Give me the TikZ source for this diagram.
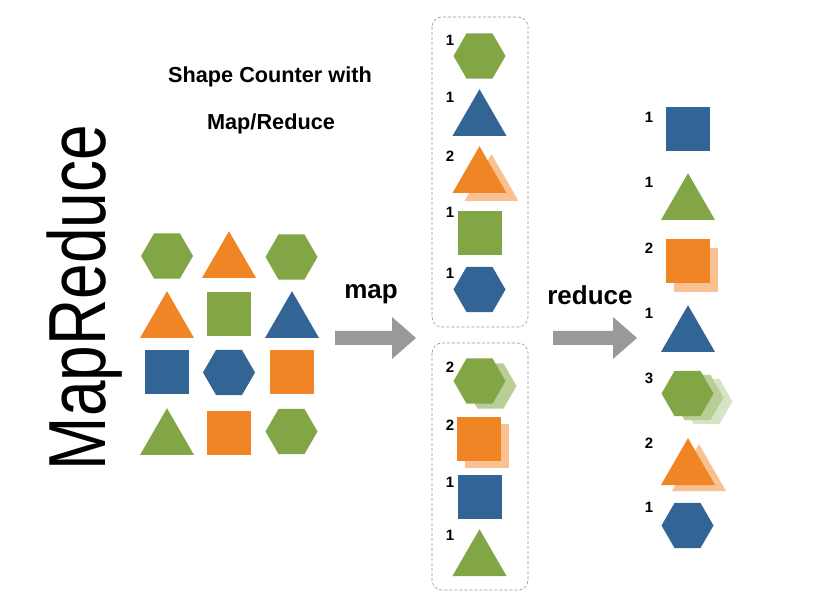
\documentclass[tikz,border=0pt]{standalone}
\usepackage{fontspec}
\setmainfont{Liberation Sans}
\usetikzlibrary{shapes.geometric}
\definecolor{cgreen}{RGB}{130,165,70}
\definecolor{corange}{RGB}{240,133,38}
\definecolor{cblue}{RGB}{50,100,150}
\definecolor{lorange}{RGB}{249,192,145}
\definecolor{lgreen}{RGB}{185,205,150}
\definecolor{llgreen}{RGB}{215,228,195}
\definecolor{agray}{RGB}{153,153,153}
\definecolor{bgray}{RGB}{150,150,150}
\tikzset{
  hexa/.style={regular polygon, regular polygon sides=6, minimum size=52pt, inner sep=0pt, outer sep=0pt, fill=#1},
  tria/.style={regular polygon, regular polygon sides=3, minimum size=62.4pt, inner sep=0pt, outer sep=0pt, fill=#1},
  sqr/.style={rectangle, minimum size=44pt, inner sep=0pt, outer sep=0pt, fill=#1},
  num/.style={font=\fontsize{15}{15}\selectfont\bfseries, inner sep=0pt},
  lbl/.style={font=\fontsize{26}{26}\selectfont\bfseries, inner sep=0pt, anchor=base},
  ttl/.style={font=\fontsize{21.7}{22}\selectfont\bfseries, inner sep=0pt, anchor=base},
  groupbox/.style={draw=bgray, densely dashed, line width=0.6pt, rounded corners=10pt},
  blockarrow/.style={fill=agray, draw=none}
}
\begin{document}
\begin{tikzpicture}[x=1pt,y=-1pt]
\useasboundingbox (0,0) rectangle (820,612);
% vertical title
\node[rotate=90, anchor=base, inner sep=0pt, font=\fontsize{81}{81}\selectfont] (mr) at (105,297.5) {\scalebox{0.79}[1]{MapReduce}};
% heading
\node[ttl] (t1) at (270,83) {Shape Counter with};
\node[ttl] (t2) at (271,129.5) {Map/Reduce};
% input grid
\node[hexa=cgreen] (g11) at (167,256) {};
\node[tria=corange] (g12) at (229,262.4) {};
\node[hexa=cgreen] (g13) at (291.5,257) {};
\node[tria=corange] (g21) at (167,322.4) {};
\node[sqr=cgreen] (g22) at (229,314) {};
\node[tria=cblue] (g23) at (292,322.4) {};
\node[sqr=cblue] (g31) at (167,372.5) {};
\node[hexa=cblue] (g32) at (229,372.5) {};
\node[sqr=corange] (g33) at (291.5,372.5) {};
\node[tria=cgreen] (g41) at (167,439.4) {};
\node[sqr=corange] (g42) at (229,433) {};
\node[hexa=cgreen] (g43) at (291.5,431.5) {};
% map arrow
\fill[blockarrow] (335,331) -- (392,331) -- (392,317) -- (416,338) -- (392,359) -- (392,345) -- (335,345) -- cycle;
\node[lbl] (lmap) at (371,299) {map};
% map boxes
\draw[groupbox] (432,17) rectangle (528,327);
\draw[groupbox] (432,343) rectangle (528,590);
% box 1
\node[num] (n1a) at (450,40.5) {1};
\node[hexa=cgreen] (m1a) at (479.5,56) {};
\node[num] (n1b) at (450,97) {1};
\node[tria=cblue] (m1b) at (479.5,120.4) {};
\node[num] (n1c) at (450,156) {2};
\node[tria=lorange] (m1cc) at (491.5,185.4) {};
\node[tria=corange] (m1c) at (479.5,177.4) {};
\node[num] (n1d) at (450,212) {1};
\node[sqr=cgreen] (m1d) at (480,233.5) {};
\node[num] (n1e) at (450,273) {1};
\node[hexa=cblue] (m1e) at (479.5,289.5) {};
% box 2
\node[num] (n2a) at (450,367) {2};
\node[hexa=lgreen] (m2ac) at (490.5,386) {};
\node[hexa=cgreen] (m2a) at (479.5,381) {};
\node[num] (n2b) at (450,425) {2};
\node[sqr=lorange] (m2bc) at (486.5,446) {};
\node[sqr=corange] (m2b) at (478.5,439) {};
\node[num] (n2c) at (450,482) {1};
\node[sqr=cblue] (m2c) at (480,496.5) {};
\node[num] (n2d) at (450,535) {1};
\node[tria=cgreen] (m2d) at (479.5,560.4) {};
% reduce arrow
\fill[blockarrow] (553,331) -- (613,331) -- (613,317) -- (637,338) -- (613,359) -- (613,345) -- (553,345) -- cycle;
\node[lbl] (lred) at (590,305) {reduce};
% reduce column
\node[num] (r1n) at (649,117) {1};
\node[sqr=cblue] (r1) at (687.5,129) {};
\node[num] (r2n) at (649,182) {1};
\node[tria=cgreen] (r2) at (688,204.4) {};
\node[num] (r3n) at (649,248) {2};
\node[sqr=lorange] (r3c) at (695.5,270.5) {};
\node[sqr=corange] (r3) at (687.5,261.5) {};
\node[num] (r4n) at (649,313) {1};
\node[tria=cblue] (r4) at (688,336.4) {};
\node[num] (r5n) at (649,378) {3};
\node[hexa=llgreen] (r5cc) at (706.5,401.5) {};
\node[hexa=lgreen] (r5c) at (697.5,397.5) {};
\node[hexa=cgreen] (r5) at (687.5,393.5) {};
\node[num] (r6n) at (649,443) {2};
\node[tria=lorange] (r6c) at (699,475.4) {};
\node[tria=corange] (r6) at (688,469.4) {};
\node[num] (r7n) at (649,507) {1};
\node[hexa=cblue] (r7) at (687.5,525.5) {};
\end{tikzpicture}
\end{document}
